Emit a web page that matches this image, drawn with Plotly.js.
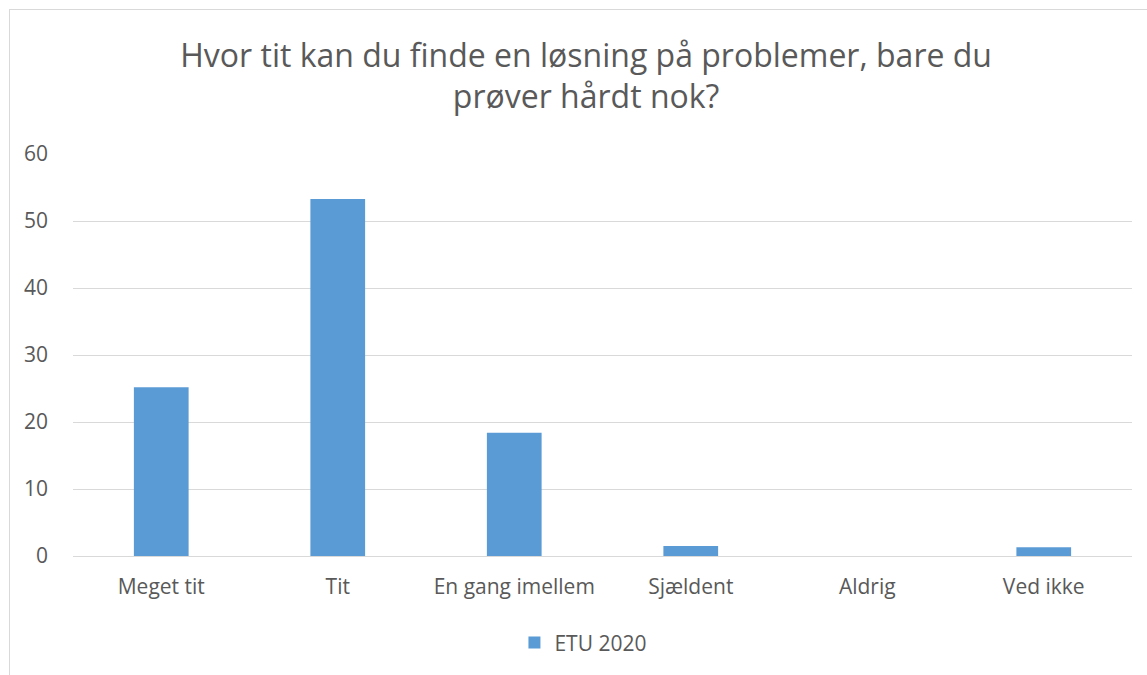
<!DOCTYPE html>
<html>
<head>
<meta charset="utf-8">
<script src="https://cdn.plot.ly/plotly-3.0.1.min.js"></script>
<style>
html,body{margin:0;padding:0;background:#fff;}
#wrap{position:relative;width:1147px;height:675px;overflow:hidden;}
#chart{width:1147px;height:675px;}
#frame{position:absolute;left:9px;top:9px;width:1200px;height:700px;border:1px solid #d9d9d9;pointer-events:none;}
</style>
</head>
<body>
<div id="wrap"><div id="chart"></div><div id="frame"></div></div>
<script>
const categories = ["Meget tit", "Tit", "En gang imellem", "Sjældent", "Aldrig", "Ved ikke"];
const values = [25.2, 53.3, 18.4, 1.5, 0, 1.3];
const seriesName = "ETU 2020";
const yTicks = [0, 10, 20, 30, 40, 50, 60];

const font = "'Open Sans', sans-serif";
const trace = {
  type: "bar",
  x: categories,
  y: values,
  name: seriesName,
  marker: {color: "#5b9bd5"},
  hoverinfo: "x+y"
};
const layout = {
  width: 1147, height: 675,
  margin: {l: 73, r: 15, t: 154, b: 116},
  paper_bgcolor: "rgba(0,0,0,0)",
  plot_bgcolor: "rgba(0,0,0,0)",
  font: {family: font, color: "#595959", size: 20},
  title: {
    text: "Hvor tit kan du finde en løsning på problemer, bare du<br>prøver hårdt nok?",
    font: {family: font, size: 32, color: "#595959"},
    x: 0.511, xanchor: "center",
    y: 0.901, yanchor: "top"
  },
  bargap: 0.69,
  showlegend: true,
  legend: {
    orientation: "h",
    x: 0.482, xanchor: "center",
    y: -0.165, yanchor: "top",
    font: {family: font, size: 21, color: "#595959"},
    itemwidth: 30
  },
  xaxis: {
    type: "category",
    showgrid: false,
    showline: false,
    zeroline: false,
    ticks: "",
    ticklabelstandoff: 16,
    tickfont: {family: font, size: 21, color: "#595959"},
    fixedrange: true
  },
  yaxis: {
    range: [0, 60],
    tickvals: yTicks,
    ticktext: yTicks.map(String),
    showgrid: true,
    gridcolor: "#d9d9d9",
    gridwidth: 1,
    zeroline: true,
    zerolinecolor: "#d9d9d9",
    zerolinewidth: 1,
    showline: false,
    ticks: "",
    ticklabelstandoff: 24,
    tickfont: {family: font, size: 21, color: "#595959"},
    fixedrange: true
  }
};
Plotly.newPlot("chart", [trace], layout, {displayModeBar: false, staticPlot: true});
</script>
</body>
</html>
